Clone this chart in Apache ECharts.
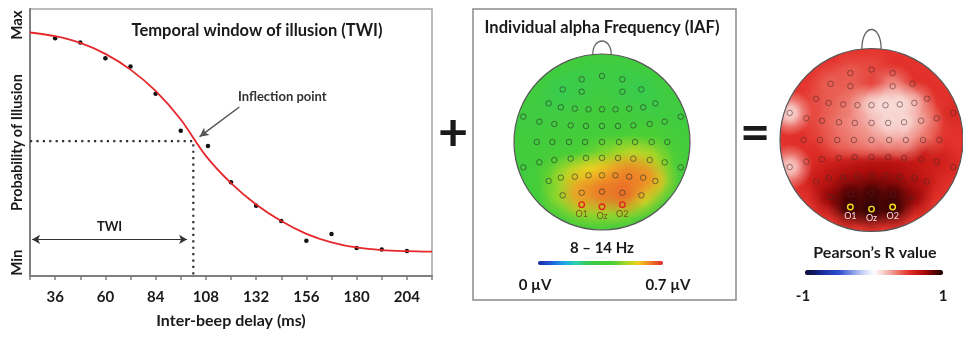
<!DOCTYPE html>
<html>
<head>
<meta charset="utf-8">
<script src="https://cdn.jsdelivr.net/npm/echarts@6.0.0/dist/echarts.min.js"></script>
<style>
  html, body { margin: 0; padding: 0; background: #fff; }
  #main { width: 963px; height: 338px; }
</style>
</head>
<body>
<div id="main"></div>
<script>
// ---- left panel: probability of illusion vs inter-beep delay ----
var delays   = [36, 48, 60, 72, 84, 96, 109, 120, 132, 144, 156, 168, 180, 192, 204];
var illusion = [89.0, 87.5, 81.6, 78.5, 68.3, 54.4, 48.7, 35.1, 26.3, 20.6, 13.2, 15.7, 10.5, 9.9, 9.4];
var fitX = [24, 36, 48, 60, 72, 84, 96, 108, 120, 132, 144, 156, 168, 180, 192, 204, 216];
var fitY = [91.2, 89.8, 87.3, 83.2, 77.3, 69.3, 58.6, 45.0, 34.8, 26.8, 20.6, 15.8, 12.6, 10.7, 9.7, 9.3, 9.1];
var inflection = [102, 50.5];
var twiRange = [25, 99];
var twiLevel = 13.7;
var yTickLabels = { 5: 'Min', 94: 'Max' };

// ---- electrode montage (unit head radius, nose up) ----
var elecX = [-0.231, 0, 0.231,
  -0.447, -0.231, 0.231, 0.447,
  -0.606, -0.468, -0.309, -0.153, 0, 0.153, 0.309, 0.468, 0.606,
  -0.894, -0.712, -0.542, -0.356, -0.182, 0, 0.182, 0.356, 0.542, 0.712, 0.894,
  -0.742, -0.564, -0.375, -0.193, 0, 0.193, 0.375, 0.564, 0.742,
  -0.894, -0.712, -0.542, -0.356, -0.182, 0, 0.182, 0.356, 0.542, 0.712, 0.894,
  -0.606, -0.468, -0.309, -0.153, 0, 0.153, 0.309, 0.468, 0.606,
  -0.447, -0.231, 0, 0.231, 0.447,
  -0.231, 0, 0.231];
var elecY = [0.712, 0.75, 0.712,
  0.598, 0.572, 0.572, 0.598,
  0.439, 0.394, 0.379, 0.371, 0.371, 0.371, 0.379, 0.394, 0.439,
  0.288, 0.231, 0.205, 0.189, 0.182, 0.182, 0.182, 0.189, 0.205, 0.231, 0.288,
  0, 0, 0, 0, 0, 0, 0, 0, 0,
  -0.288, -0.231, -0.205, -0.189, -0.182, -0.180, -0.182, -0.189, -0.205, -0.231, -0.288,
  -0.443, -0.405, -0.394, -0.379, -0.379, -0.379, -0.394, -0.405, -0.443,
  -0.606, -0.576, -0.564, -0.576, -0.606,
  -0.712, -0.735, -0.712];
var labelIdx = [61, 62, 63];
var labelNames = ['O1', 'Oz', 'O2'];

// IAF power (µV) at each electrode
var iafValues = [0.31, 0.32, 0.31,
  0.29, 0.32, 0.32, 0.29,
  0.32, 0.34, 0.35, 0.35, 0.35, 0.35, 0.35, 0.34, 0.32,
  0.33, 0.34, 0.35, 0.35, 0.35, 0.35, 0.35, 0.35, 0.35, 0.36, 0.33,
  0.35, 0.35, 0.36, 0.36, 0.37, 0.38, 0.42, 0.42, 0.38,
  0.34, 0.36, 0.38, 0.40, 0.42, 0.45, 0.48, 0.52, 0.50, 0.43, 0.35,
  0.40, 0.46, 0.52, 0.55, 0.56, 0.59, 0.62, 0.61, 0.53,
  0.48, 0.60, 0.63, 0.64, 0.54,
  0.50, 0.50, 0.50];
var iafBase = 0.35;

// Pearson's R at each electrode
var pearsonR = [0.42, 0.45, 0.52,
  0.40, 0.40, 0.30, 0.52,
  0.46, 0.42, 0.38, 0.32, 0.16, 0.10, 0.10, 0.24, 0.52,
  0.12, 0.48, 0.44, 0.36, 0.30, 0.24, 0.12, 0.12, 0.28, 0.45, 0.55,
  0.52, 0.48, 0.40, 0.35, 0.30, 0.28, 0.28, 0.38, 0.52,
  0.15, 0.52, 0.55, 0.56, 0.57, 0.58, 0.60, 0.62, 0.62, 0.60, 0.55,
  0.60, 0.63, 0.68, 0.70, 0.72, 0.72, 0.70, 0.66, 0.60,
  0.76, 0.86, 0.90, 0.86, 0.76,
  0.93, 0.96, 0.93];
var pearsonBase = 0.5;

var jetColors = ['#1a2aa0', '#1f5ad8', '#1fa0e8', '#2ad0b0', '#38cc50', '#42cc3c',
  '#4ccf36', '#a0d828', '#f0d020', '#f07a28', '#e02828'];
var rColors = ['#0c0c3c', '#111860', '#1a2a9a', '#2540b8', '#3050d0', '#6a80e0', '#a0b0ee', '#d6dcf8',
  '#ffffff', '#f8d4d0', '#f2a098', '#ea6a5e', '#e4332c', '#c81a16', '#a00808', '#5a0202', '#180000'];

var FONT = 'Lato, "Open Sans", sans-serif';

function toRgba(c, a) {
  var p = echarts.color.parse(c);
  if (!p) return c;
  return 'rgba(' + p[0] + ',' + p[1] + ',' + p[2] + ',' + a + ')';
}

// soft disc per electrode, colour from the visualMap
function blobRender(radius) {
  return function (params, api) {
    var p = api.coord([api.value(0), api.value(1)]);
    var r = api.size([radius, radius])[0];
    var c = api.visual('color');
    return {
      type: 'circle',
      shape: { cx: p[0], cy: p[1], r: r },
      style: {
        fill: new echarts.graphic.RadialGradient(0.5, 0.5, 0.5, [
          { offset: 0, color: toRgba(c, 1) },
          { offset: 0.3, color: toRgba(c, 0.85) },
          { offset: 0.6, color: toRgba(c, 0.4) },
          { offset: 1, color: toRgba(c, 0) }
        ])
      }
    };
  };
}

function baseRender(params, api) {
  var c = api.coord([0, 0]);
  var r = api.size([1, 1])[0];
  return { type: 'circle', shape: { cx: c[0], cy: c[1], r: r }, style: { fill: api.visual('color') } };
}

function frameRender(noseH, ringW) {
  return function (params, api) {
    var c = api.coord([0, 0]);
    var r = api.size([1, 1])[0];
    var nw = 0.105 * r, y0 = c[1] - 0.994 * r, h = c[1] - r - noseH;
    var cp = y0 - (y0 - h) * 4 / 3;
    return {
      type: 'group',
      children: [
        { type: 'circle', shape: { cx: c[0], cy: c[1], r: r + ringW / 2 },
          style: { fill: 'none', stroke: '#fff', lineWidth: ringW } },
        { type: 'circle', shape: { cx: c[0], cy: c[1], r: r },
          style: { fill: 'none', stroke: '#555', lineWidth: 1.2 } },
        { type: 'bezierCurve',
          shape: { x1: c[0] - nw, y1: y0, cpx1: c[0] - nw, cpy1: cp, cpx2: c[0] + nw, cpy2: cp, x2: c[0] + nw, y2: y0 },
          style: { fill: 'none', stroke: '#666', lineWidth: 1.3 } }
      ]
    };
  };
}

function blobData(values, base) {
  var idx = values.map(function (v, i) { return i; });
  idx.sort(function (a, b) { return Math.abs(values[a] - base) - Math.abs(values[b] - base); });
  return idx.map(function (i) { return [elecX[i], elecY[i], values[i]]; });
}

function electrodeData(hiColor, labelColor) {
  return elecX.map(function (x, i) {
    var k = labelIdx.indexOf(i);
    var item = { value: [x, elecY[i]] };
    if (k >= 0) {
      item.name = labelNames[k];
      item.itemStyle = { borderColor: hiColor, borderWidth: 1.4 };
      item.label = { show: true, color: labelColor };
    }
    return item;
  });
}

function electrodeSeries(gi, stroke, hiColor, labelColor) {
  return {
    type: 'scatter', xAxisIndex: gi, yAxisIndex: gi, z: 4, silent: true,
    symbol: 'circle', symbolSize: 5.5,
    itemStyle: { color: 'rgba(0,0,0,0)', borderColor: stroke, borderWidth: 1, opacity: 1 },
    label: { show: false, position: 'bottom', distance: 1.5, formatter: '{b}', fontSize: 9, fontFamily: FONT },
    data: electrodeData(hiColor, labelColor)
  };
}

function headAxis(gi) {
  return { gridIndex: gi, type: 'value', min: -1, max: 1, show: false };
}

function txt(text, x, y, size) {
  return {
    type: 'text', x: x, y: y, z: 100,
    style: {
      text: text, fill: '#1a1a1a', font: 'bold ' + size + 'px ' + FONT,
      align: 'center', verticalAlign: 'middle', textAlign: 'center', textVerticalAlign: 'middle'
    }
  };
}

var chart = echarts.init(document.getElementById('main'), null, { renderer: 'canvas' });

var option = {
  animation: false,
  backgroundColor: '#fff',
  grid: [
    { left: 30, top: 9, width: 402, height: 267, show: true, borderColor: '#a6a6a6', borderWidth: 1.5 },
    { left: 514, top: 54, width: 176, height: 176 },
    { left: 780, top: 46, width: 188, height: 188 }
  ],
  xAxis: [
    {
      gridIndex: 0, type: 'value', min: 24, max: 216, interval: 12,
      name: 'Inter-beep delay (ms)', nameLocation: 'middle', nameGap: 37, nameMoveOverlap: false,
      nameTextStyle: { fontFamily: FONT, fontWeight: 'bold', fontSize: 16, color: '#1a1a1a' },
      axisLine: { show: true, lineStyle: { color: '#7f7f7f', width: 2 } },
      axisTick: { show: true, length: 4, lineStyle: { color: '#7f7f7f', width: 1.5 } },
      splitLine: { show: false },
      axisLabel: {
        margin: 14, fontFamily: FONT, fontWeight: 'bold', fontSize: 15, color: '#1a1a1a',
        formatter: function (v) { return (v >= 36 && v <= 204 && (v - 36) % 24 === 0) ? String(v) : ''; }
      }
    },
    headAxis(1), headAxis(2)
  ],
  yAxis: [
    {
      gridIndex: 0, type: 'value', min: 0, max: 100, interval: 1,
      name: 'Probability of Illusion', nameLocation: 'middle', nameRotate: 90, nameGap: 5,
      nameMoveOverlap: false,
      nameTextStyle: { fontFamily: FONT, fontWeight: 'bold', fontSize: 14.5, color: '#1a1a1a' },
      axisLine: { show: true, lineStyle: { color: '#7f7f7f', width: 2 } },
      axisTick: { show: false },
      splitLine: { show: false },
      axisLabel: {
        rotate: 90, margin: 5, fontFamily: FONT, fontWeight: 'bold', fontSize: 15, color: '#1a1a1a',
        formatter: function (v) { return yTickLabels[v] || ''; }
      }
    },
    headAxis(1), headAxis(2)
  ],
  visualMap: [
    {
      type: 'continuous', seriesIndex: [3, 4], dimension: 2, min: 0, max: 0.7,
      orient: 'horizontal', left: 538, top: 261, itemWidth: 4, itemHeight: 125,
      calculable: false, hoverLink: false, padding: 0, inRange: { color: jetColors }
    },
    {
      type: 'continuous', seriesIndex: [7, 8], dimension: 2, min: -1, max: 1,
      orient: 'horizontal', left: 805, top: 270, itemWidth: 5, itemHeight: 138,
      calculable: false, hoverLink: false, padding: 0, inRange: { color: rColors }
    }
  ],
  graphic: [
    { type: 'rect', z: 100, shape: { x: 473, y: 9, width: 263, height: 291 },
      style: { fill: 'none', stroke: '#8a8a8a', lineWidth: 1.5 } },
    txt('Temporal window of illusion (TWI)', 257, 31, 16.5),
    txt('Individual alpha Frequency (IAF)', 602, 28, 16.5),
    txt('8 \u2013 14 Hz', 602, 248, 15),
    txt('0 \u00b5V', 535, 285, 15),
    txt('0.7 \u00b5V', 668, 285, 15),
    txt('Pearson\u2019s R value', 875, 253, 16),
    txt('-1', 803, 296, 15),
    txt('1', 943, 296, 15),
    txt('+', 453, 133, 52),
    txt('=', 755, 133, 52)
  ],
  series: [
    {
      type: 'line', xAxisIndex: 0, yAxisIndex: 0, smooth: 0.3,
      showSymbol: false, silent: true,
      lineStyle: { color: '#e5282c', width: 1.8 },
      data: fitX.map(function (x, i) { return [x, fitY[i]]; }),
      markPoint: {
        silent: true, symbol: 'circle', symbolSize: 0,
        label: { show: true, position: 'inside', formatter: 'Inflection point', fontFamily: FONT,
          fontWeight: 'bold', fontSize: 13, color: '#333' },
        data: [{ coord: [144.5, 67] }]
      }
    },
    {
      type: 'scatter', xAxisIndex: 0, yAxisIndex: 0, symbolSize: 4.5, silent: true,
      itemStyle: { color: '#111', opacity: 1 },
      data: delays.map(function (x, i) { return [x, illusion[i]]; }),
      markLine: {
        silent: true, symbol: ['arrow', 'arrow'], symbolSize: [7, 8],
        lineStyle: { color: '#333', width: 1.2, type: 'solid' },
        label: { show: true, position: 'insideMiddleTop', distance: 6, formatter: 'TWI',
          fontFamily: FONT, fontWeight: 'bold', fontSize: 13, color: '#1a1a1a' },
        data: [[{ coord: [twiRange[0], twiLevel] }, { coord: [twiRange[1], twiLevel] }]]
      }
    },
    {
      type: 'line', xAxisIndex: 0, yAxisIndex: 0, showSymbol: false, silent: true,
      lineStyle: { color: '#333', width: 2.2, type: [2.2, 4.2] },
      data: [[24, inflection[1]], inflection, [inflection[0], 0]],
      markLine: {
        silent: true, symbol: ['none', 'arrow'], symbolSize: [7, 9],
        lineStyle: { color: '#555', width: 1.5, type: 'solid' },
        label: { show: false },
        data: [[{ coord: [124, 63.3] }, { coord: [105, 52.2] }]]
      }
    },
    // IAF head
    { type: 'custom', xAxisIndex: 1, yAxisIndex: 1, z: 1, silent: true, renderItem: baseRender,
      encode: { x: 0, y: 1 }, data: [[0, 0, iafBase]] },
    { type: 'custom', xAxisIndex: 1, yAxisIndex: 1, z: 2, silent: true, renderItem: blobRender(0.28),
      encode: { x: 0, y: 1 }, data: blobData(iafValues, iafBase) },
    { type: 'custom', xAxisIndex: 1, yAxisIndex: 1, z: 3, silent: true, renderItem: frameRender(13, 26),
      encode: { x: 0, y: 1 }, data: [[0, 0]] },
    electrodeSeries(1, 'rgba(40,50,40,0.6)', '#e0261e', '#6b5a1a'),
    // Pearson head
    { type: 'custom', xAxisIndex: 2, yAxisIndex: 2, z: 1, silent: true, renderItem: baseRender,
      encode: { x: 0, y: 1 }, data: [[0, 0, pearsonBase]] },
    { type: 'custom', xAxisIndex: 2, yAxisIndex: 2, z: 2, silent: true, renderItem: blobRender(0.25),
      encode: { x: 0, y: 1 }, data: blobData(pearsonR, pearsonBase) },
    { type: 'custom', xAxisIndex: 2, yAxisIndex: 2, z: 3, silent: true, renderItem: frameRender(19, 28),
      encode: { x: 0, y: 1 }, data: [[0, 0]] },
    electrodeSeries(2, 'rgba(70,40,40,0.55)', '#f2e21e', '#f6dede')
  ]
};

chart.setOption(option);
</script>
</body>
</html>
